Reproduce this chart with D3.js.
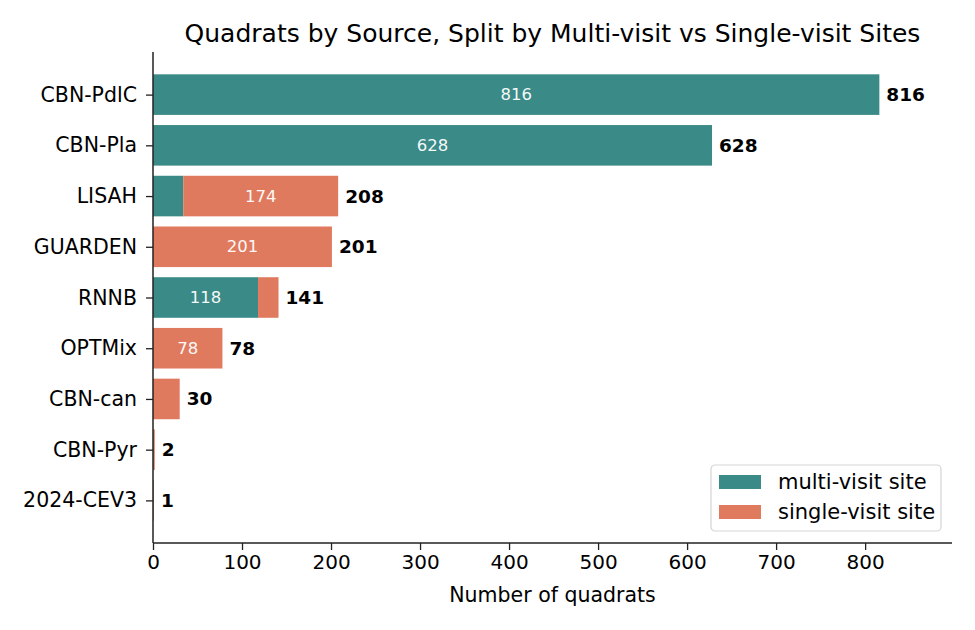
<!DOCTYPE html>
<html>
<head>
<meta charset="utf-8">
<script src="https://cdn.jsdelivr.net/npm/d3@7"></script>
<style>
  html, body { margin: 0; padding: 0; background: #fff; }
  svg { display: block; font-family: "DejaVu Sans", sans-serif; }
</style>
</head>
<body>
<svg id="chart" width="975" height="630"></svg>
<script>
const categories = ["CBN-PdlC", "CBN-Pla", "LISAH", "GUARDEN", "RNNB", "OPTMix", "CBN-can", "CBN-Pyr", "2024-CEV3"];
const multiVisit = [816, 628, 34, 0, 118, 0, 0, 0, 0];
const singleVisit = [0, 0, 174, 201, 23, 78, 30, 2, 1];
const seriesNames = ["multi-visit site", "single-visit site"];
const xTicks = [0, 100, 200, 300, 400, 500, 600, 700, 800];

const colors = ["#3a8a87", "#e07a5f"];
const svg = d3.select("#chart");
const pLeft = 153, pRight = 952, pTop = 52, pBottom = 543;

const totals = categories.map((c, i) => multiVisit[i] + singleVisit[i]);
const maxTotal = d3.max(totals);

const x = d3.scaleLinear().domain([0, maxTotal * 1.1]).range([pLeft, pRight]);
const n = categories.length;
const pad = 0.05 * (n - 1 + 0.8);
const y = d3.scaleLinear().domain([-0.4 - pad, n - 1 + 0.4 + pad]).range([pTop, pBottom]);
const barH = y(0.8) - y(0);

const rows = categories.map((c, i) => ({ c, i, m: multiVisit[i], s: singleVisit[i], t: totals[i] }));

svg.append("g").selectAll("rect").data(rows).join("rect")
  .attr("x", d => x(0)).attr("y", d => y(d.i - 0.4))
  .attr("width", d => x(d.m) - x(0)).attr("height", barH)
  .attr("fill", colors[0]);

svg.append("g").selectAll("rect").data(rows).join("rect")
  .attr("x", d => x(d.m)).attr("y", d => y(d.i - 0.4))
  .attr("width", d => x(d.m + d.s) - x(d.m)).attr("height", barH)
  .attr("fill", colors[1]);

const inner = [];
rows.forEach(d => {
  if (d.m > 50) inner.push({ i: d.i, v: d.m, cx: d.m / 2 });
  if (d.s > 50) inner.push({ i: d.i, v: d.s, cx: d.m + d.s / 2 });
});
svg.append("g").selectAll("text").data(inner).join("text")
  .attr("x", d => x(d.cx)).attr("y", d => y(d.i))
  .attr("text-anchor", "middle").attr("dominant-baseline", "central")
  .attr("fill", "#fff").attr("font-size", 16.5).attr("opacity", 0.95)
  .text(d => d.v);

svg.append("g").selectAll("text").data(rows).join("text")
  .attr("x", d => x(d.t) + 7).attr("y", d => y(d.i))
  .attr("dominant-baseline", "central")
  .attr("font-weight", "bold").attr("font-size", 18.5).attr("fill", "#000")
  .text(d => d.t);

const xAxis = svg.append("g").attr("transform", `translate(0,${pBottom})`)
  .call(d3.axisBottom(x).tickValues(xTicks).tickSize(7).tickPadding(5));
xAxis.select(".domain").attr("stroke", "#222").attr("stroke-width", 1.5)
  .attr("d", `M${pLeft},0H${pRight}`);
xAxis.selectAll(".tick line").attr("stroke", "#222").attr("stroke-width", 1.3);
xAxis.selectAll(".tick text").attr("font-size", 20).attr("fill", "#000")
  .attr("font-family", "DejaVu Sans, sans-serif");

const yAxis = svg.append("g").attr("transform", `translate(${pLeft},0)`)
  .call(d3.axisLeft(y).tickValues(d3.range(n)).tickFormat(i => categories[i]).tickSize(7).tickPadding(9));
yAxis.select(".domain").attr("stroke", "#222").attr("stroke-width", 1.5)
  .attr("d", `M0,${pTop}V${pBottom}`);
yAxis.selectAll(".tick line").attr("stroke", "#222").attr("stroke-width", 1.3);
yAxis.selectAll(".tick text").attr("font-size", 20.5).attr("fill", "#000")
  .attr("font-family", "DejaVu Sans, sans-serif");

svg.append("text").attr("x", (pLeft + pRight) / 2).attr("y", 42)
  .attr("text-anchor", "middle").attr("font-size", 25).attr("fill", "#000")
  .text("Quadrats by Source, Split by Multi-visit vs Single-visit Sites");
svg.append("text").attr("x", (pLeft + pRight) / 2).attr("y", 602)
  .attr("text-anchor", "middle").attr("font-size", 20.5).attr("fill", "#000")
  .text("Number of quadrats");

const lg = svg.append("g").attr("transform", "translate(711,465)");
lg.append("rect").attr("x", 0).attr("y", 0).attr("width", 230).attr("height", 66)
  .attr("rx", 4).attr("fill", "#fff").attr("fill-opacity", 0.8)
  .attr("stroke", "#d5d5d5").attr("stroke-width", 1.2);
seriesNames.forEach((s, k) => {
  lg.append("rect").attr("x", 8).attr("y", 10 + k * 30).attr("width", 42).attr("height", 14)
    .attr("fill", colors[k]);
  lg.append("text").attr("x", 67).attr("y", 17 + k * 30).attr("dominant-baseline", "central")
    .attr("font-size", 21).attr("fill", "#000").text(s);
});
</script>
</body>
</html>
